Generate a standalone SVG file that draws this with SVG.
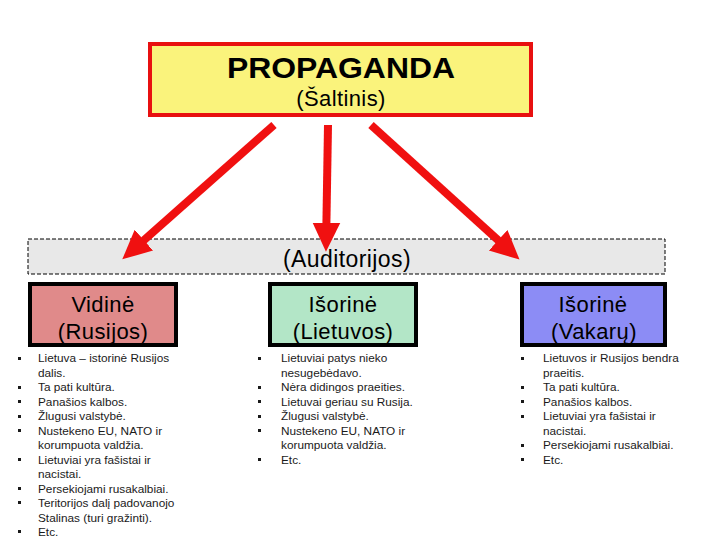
<svg xmlns="http://www.w3.org/2000/svg" width="720" height="540" viewBox="0 0 720 540">
<style>
text{font-family:"Liberation Sans",Arial,sans-serif;fill:#000}
.t{font-size:30px;font-weight:bold;text-anchor:middle}
.l{font-size:22px;text-anchor:middle;letter-spacing:0.4px}
.b{font-size:11.8px;fill:#1a1a1a}
.node{stroke:#000;stroke-width:4}
.arr{stroke:#F01010;stroke-width:8;fill:none}
.bu{fill:#1a1a1a}
</style>
<defs>
<marker id="ah" markerUnits="userSpaceOnUse" markerWidth="30" markerHeight="30" viewBox="0 -13 26 26" refX="1" refY="0" orient="auto">
<path d="M0,-12 L25,0 L0,12 z" fill="#F01010"/>
</marker>
</defs>
<rect width="720" height="540" fill="#fff"/>
<g id="propaganda">
<rect x="150" y="44" width="381" height="71" fill="#FAF37C" stroke="#E81010" stroke-width="4"/>
<text class="t" x="341" y="78" textLength="228" lengthAdjust="spacingAndGlyphs">PROPAGANDA</text>
<text class="l" x="341" y="106">(Šaltinis)</text>
</g>
<g id="auditorijos">
<rect x="28" y="239" width="637" height="35" fill="#E8E8E8" stroke="#000" stroke-width="1" stroke-dasharray="4,2"/>
<text class="l" x="347" y="267" style="font-size:23px">(Auditorijos)</text>
</g>
<g id="connectors">
<line class="arr" x1="274" y1="125" x2="143" y2="241" marker-end="url(#ah)"/>
<line class="arr" x1="328" y1="125" x2="326.4" y2="224" marker-end="url(#ah)"/>
<line class="arr" x1="371" y1="125" x2="499" y2="241" marker-end="url(#ah)"/>
</g>
<g id="vidine">
<rect class="node" x="30" y="284" width="146" height="61" fill="#E08A8A"/>
<text class="l" x="103" y="312">Vidinė</text>
<text class="l" x="103" y="339">(Rusijos)</text>
</g>
<g id="lietuvos">
<rect class="node" x="270" y="284" width="146" height="61" fill="#B3E6C7"/>
<text class="l" x="343" y="312">Išorinė</text>
<text class="l" x="343" y="339">(Lietuvos)</text>
</g>
<g id="vakaru">
<rect class="node" x="522" y="284" width="143" height="61" fill="#8C8CF5"/>
<text class="l" x="593" y="312">Išorinė</text>
<text class="l" x="594" y="339">(Vakarų)</text>
</g>
<g id="list-vidine">
<rect class="bu" x="18" y="357" width="3" height="3"/>
<rect class="bu" x="18" y="386" width="3" height="3"/>
<rect class="bu" x="18" y="400" width="3" height="3"/>
<rect class="bu" x="18" y="415" width="3" height="3"/>
<rect class="bu" x="18" y="429" width="3" height="3"/>
<rect class="bu" x="18" y="458" width="3" height="3"/>
<rect class="bu" x="18" y="487" width="3" height="3"/>
<rect class="bu" x="18" y="501" width="3" height="3"/>
<rect class="bu" x="18" y="530" width="3" height="3"/>
<text class="b" x="38" y="362">Lietuva – istorinė Rusijos</text>
<text class="b" x="38" y="376.5">dalis.</text>
<text class="b" x="38" y="391">Ta pati kultūra.</text>
<text class="b" x="38" y="405.5">Panašios kalbos.</text>
<text class="b" x="38" y="420">Žlugusi valstybė.</text>
<text class="b" x="38" y="434.5">Nustekeno EU, NATO ir</text>
<text class="b" x="38" y="449">korumpuota valdžia.</text>
<text class="b" x="38" y="463.5">Lietuviai yra fašistai ir</text>
<text class="b" x="38" y="478">nacistai.</text>
<text class="b" x="38" y="492.5">Persekiojami rusakalbiai.</text>
<text class="b" x="38" y="507">Teritorijos dalį padovanojo</text>
<text class="b" x="38" y="521.5">Stalinas (turi gražinti).</text>
<text class="b" x="38" y="536">Etc.</text>
</g>
<g id="list-lietuvos">
<rect class="bu" x="258" y="357" width="3" height="3"/>
<rect class="bu" x="258" y="386" width="3" height="3"/>
<rect class="bu" x="258" y="400" width="3" height="3"/>
<rect class="bu" x="258" y="415" width="3" height="3"/>
<rect class="bu" x="258" y="429" width="3" height="3"/>
<rect class="bu" x="258" y="458" width="3" height="3"/>
<text class="b" x="281" y="362">Lietuviai patys nieko</text>
<text class="b" x="281" y="376.5">nesugebėdavo.</text>
<text class="b" x="281" y="391">Nėra didingos praeities.</text>
<text class="b" x="281" y="405.5">Lietuvai geriau su Rusija.</text>
<text class="b" x="281" y="420">Žlugusi valstybė.</text>
<text class="b" x="281" y="434.5">Nustekeno EU, NATO ir</text>
<text class="b" x="281" y="449">korumpuota valdžia.</text>
<text class="b" x="281" y="463.5">Etc.</text>
</g>
<g id="list-vakaru">
<rect class="bu" x="521" y="357" width="3" height="3"/>
<rect class="bu" x="521" y="386" width="3" height="3"/>
<rect class="bu" x="521" y="400" width="3" height="3"/>
<rect class="bu" x="521" y="415" width="3" height="3"/>
<rect class="bu" x="521" y="444" width="3" height="3"/>
<rect class="bu" x="521" y="458" width="3" height="3"/>
<text class="b" x="543" y="362">Lietuvos ir Rusijos bendra</text>
<text class="b" x="543" y="376.5">praeitis.</text>
<text class="b" x="543" y="391">Ta pati kultūra.</text>
<text class="b" x="543" y="405.5">Panašios kalbos.</text>
<text class="b" x="543" y="420">Lietuviai yra fašistai ir</text>
<text class="b" x="543" y="434.5">nacistai.</text>
<text class="b" x="543" y="449">Persekiojami rusakalbiai.</text>
<text class="b" x="543" y="463.5">Etc.</text>
</g>
</svg>
